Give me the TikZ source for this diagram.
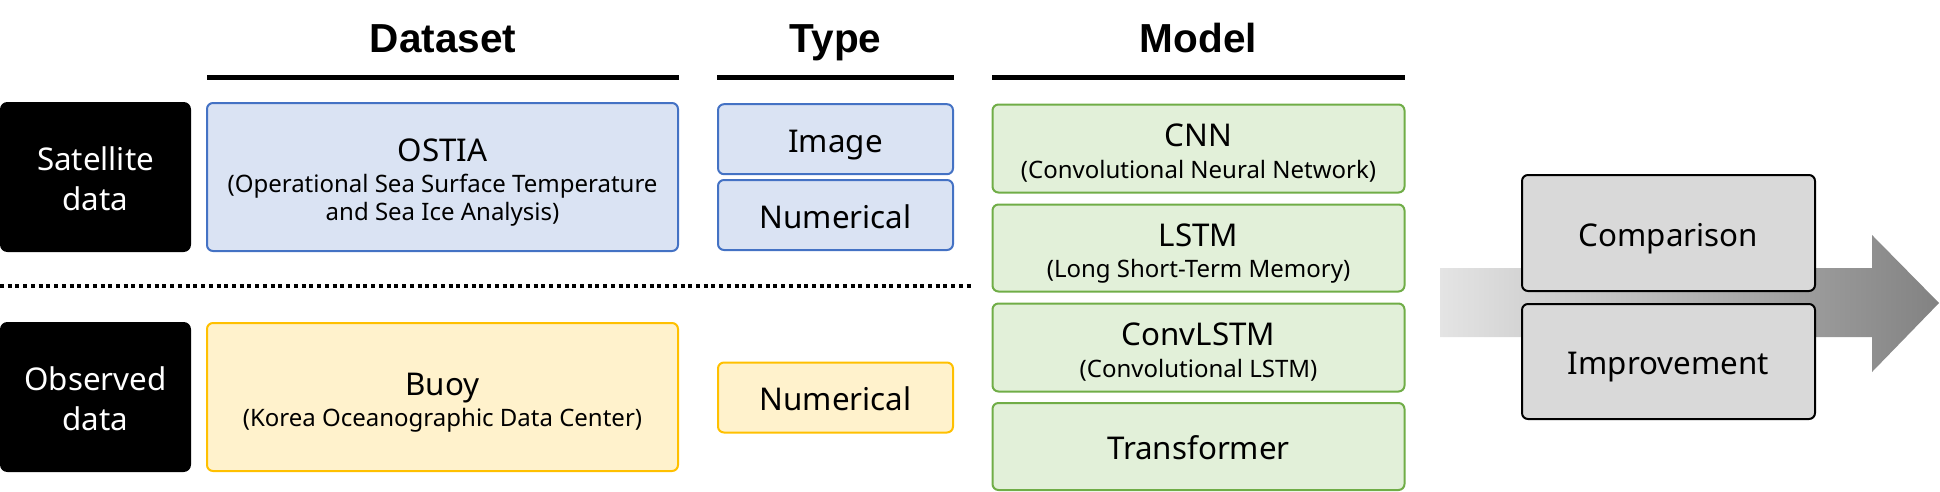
\documentclass[tikz,border=0pt]{standalone}
\usepackage{fontspec}
\setmainfont{Noto Sans}
\newfontfamily\hdrfont{Liberation Sans}
\definecolor{bfill}{HTML}{DAE3F3}
\definecolor{bline}{HTML}{4472C4}
\definecolor{yfill}{HTML}{FFF2CC}
\definecolor{yline}{HTML}{FFC000}
\definecolor{gfill}{HTML}{E2F0D9}
\definecolor{gline}{HTML}{70AD47}
\definecolor{kfill}{HTML}{D9D9D9}
\definecolor{arrl}{HTML}{E4E4E4}
\definecolor{arrr}{HTML}{828282}
\newcommand{\ttl}{\fontsize{23.5}{21.3}\selectfont}
\newcommand{\subf}{\fontsize{18}{21.3}\selectfont\lineskiplimit=-1000pt }
\newcommand{\catf}{\fontsize{23.5}{30}\selectfont\lineskiplimit=-1000pt }
\newcommand{\tstr}{\vrule height 26.8pt depth 7pt width 0pt}
\newcommand{\sstr}{\vrule height 10pt depth 6pt width 0pt}
\tikzset{
  sz/.style 2 args={minimum width=#1*0.75pt, minimum height=#2*0.75pt},
  base/.style={rectangle, inner sep=0pt, align=center, font=\subf},
  catbox/.style={base, fill=black, text=white, rounded corners=5.5pt, font=\catf},
  bluebox/.style={base, fill=bfill, draw=bline, line width=1.5pt, rounded corners=4.5pt},
  yelbox/.style={base, fill=yfill, draw=yline, line width=1.5pt, rounded corners=4.5pt},
  grnbox/.style={base, fill=gfill, draw=gline, line width=1.5pt, rounded corners=4.5pt},
  grybox/.style={base, fill=kfill, draw=black, line width=1.5pt, rounded corners=4.5pt, font=\ttl},
  hdr/.style={anchor=base, font=\hdrfont\fontsize{30.4}{31}\selectfont\bfseries},
  rule/.style={line width=3.75pt},
}
\begin{document}
\begin{tikzpicture}[x=0.75pt,y=-0.75pt]
\useasboundingbox (0,0) rectangle (1940,492);
% headers
\node[hdr] (hds) at (443,52.7) {Dataset};
\node[hdr] (hdt) at (835.5,52.7) {Type};
\node[hdr] (hdm) at (1198.5,52.7) {Model};
\draw[rule] (207,77.5) -- (679,77.5);
\draw[rule] (717,77.5) -- (954,77.5);
\draw[rule] (992,77.5) -- (1405,77.5);
% separator
\draw[line width=3pt, dash pattern=on 3pt off 2.8pt] (0,286) -- (974,286);
% arrow
\shade[left color=arrl, right color=arrr] (1440,268) -- (1872,268) -- (1872,235) -- (1939,303) -- (1872,372) -- (1872,337) -- (1440,337) -- cycle;
% category boxes
\node[catbox, sz={191}{150}] (sat) at (95.5,177) {\tstr Satellite\\\tstr data};
\node[catbox, sz={191}{150}] (obs) at (95.5,397) {\tstr Observed\\\tstr data};
% dataset
\node[bluebox, sz={471}{148}] (ostia) at (442.5,177) {{\ttl\tstr OSTIA}\\[2.2pt]\sstr(Operational Sea Surface Temperature\\\sstr and Sea Ice Analysis)};
\node[yelbox, sz={471}{148}] (buoy) at (442.5,397) {{\ttl\tstr Buoy}\\[2.2pt]\sstr(Korea Oceanographic Data Center)};
% type
\node[bluebox, sz={235}{70}, font=\ttl] (img) at (835.5,139.2) {\tstr Image};
\node[bluebox, sz={235}{70}, font=\ttl] (num1) at (835.5,215) {\tstr Numerical};
\node[yelbox, sz={235}{70}, font=\ttl] (num2) at (835.5,397.5) {\tstr Numerical};
% model
\node[grnbox, sz={412}{88}] (cnn) at (1198.5,148.5) {{\ttl\tstr CNN}\\[2.2pt]\sstr(Convolutional Neural Network)};
\node[grnbox, sz={412}{87}] (lstm) at (1198.5,248) {{\ttl\tstr LSTM}\\[2.2pt]\sstr(Long Short-Term Memory)};
\node[grnbox, sz={412}{88}] (clstm) at (1198.5,347.5) {{\ttl\tstr ConvLSTM}\\[2.2pt]\sstr(Convolutional LSTM)};
\node[grnbox, sz={412}{87}, font=\ttl] (trf) at (1198.5,446.5) {\tstr Transformer};
% outcome
\node[grybox, sz={293}{116}] (comp) at (1668.5,233) {\tstr Comparison};
\node[grybox, sz={293}{115}] (impr) at (1668.5,361.5) {\tstr Improvement};
\end{tikzpicture}
\end{document}
